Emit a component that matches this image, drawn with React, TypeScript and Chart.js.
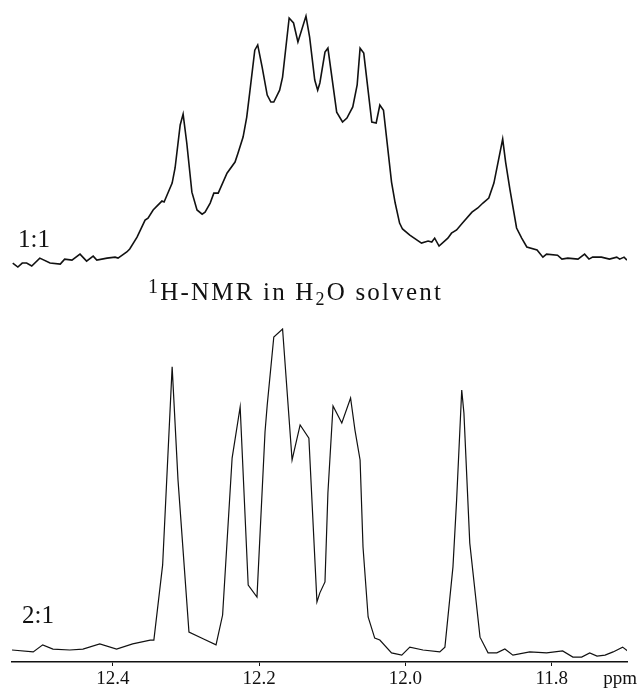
import React, { useEffect, useRef } from "react";
import { Chart, registerables } from "chart.js";

Chart.register(...registerables);

// 1:1 mixture spectrum (chemical shift in ppm, relative intensity)
const ppmTop = [
  12.537, 12.53, 12.524, 12.518, 12.511, 12.5, 12.486, 12.472, 12.466, 12.456,
  12.445, 12.436, 12.427, 12.422, 12.408, 12.397, 12.393, 12.381, 12.377, 12.367,
  12.356, 12.352, 12.345, 12.333, 12.33, 12.319, 12.315, 12.308, 12.304, 12.299,
  12.292, 12.285, 12.278, 12.274, 12.267, 12.262, 12.256, 12.244, 12.233, 12.229,
  12.222, 12.217, 12.213, 12.206, 12.202, 12.196, 12.189, 12.184, 12.18, 12.172,
  12.168, 12.159, 12.153, 12.147, 12.136, 12.131, 12.124, 12.12, 12.117, 12.11,
  12.106, 12.094, 12.086, 12.08, 12.072, 12.066, 12.062, 12.057, 12.046, 12.04,
  12.035, 12.03, 12.019, 12.014, 12.008, 12.004, 11.994, 11.978, 11.969, 11.964,
  11.96, 11.954, 11.942, 11.937, 11.93, 11.922, 11.909, 11.901, 11.894, 11.886,
  11.879, 11.867, 11.863, 11.857, 11.848, 11.841, 11.834, 11.82, 11.812, 11.807,
  11.792, 11.786, 11.778, 11.764, 11.755, 11.749, 11.744, 11.732, 11.721, 11.711,
  11.707, 11.701, 11.697,
];
const intensityTop = [
  0, -1.6, 0, 0, -1.2, 2.0, 0, -0.4, 1.6, 1.2,
  3.6, 0.8, 2.8, 1.2, 2.0, 2.4, 2.0, 4.5, 5.7, 10.5,
  17.4, 18.2, 21.5, 25.1, 24.7, 32.4, 38.5, 55.9, 60.3, 48.6,
  28.7, 21.5, 19.8, 20.6, 24.3, 28.3, 28.3, 36.4, 40.9, 44.5,
  51.0, 59.1, 68.8, 86.2, 88.3, 79.4, 68.0, 65.2, 65.2, 70.0,
  75.3, 99.2, 97.2, 89.5, 100, 91.5, 74.1, 70.0, 72.9, 85.4,
  87.0, 61.1, 57.1, 58.7, 63.2, 72.1, 87.0, 85.0, 57.1, 56.7,
  64.0, 61.9, 32.8, 24.3, 16.2, 13.8, 11.3, 8.1, 8.9, 8.5,
  10.1, 6.9, 10.1, 12.1, 13.4, 16.2, 20.6, 22.3, 24.3, 26.3,
  32.4, 50.2, 40.9, 29.6, 14.2, 10.1, 6.5, 5.3, 2.4, 3.6,
  3.2, 1.6, 2.0, 1.6, 3.6, 1.6, 2.4, 2.4, 1.6, 2.4,
  1.6, 2.4, 1.2,
];

// 2:1 mixture spectrum
const ppmBottom = [
  12.538, 12.509, 12.496, 12.482, 12.459, 12.441, 12.418, 12.395, 12.373, 12.349,
  12.344, 12.332, 12.319, 12.311, 12.296, 12.276, 12.259, 12.25, 12.237, 12.226,
  12.215, 12.203, 12.192, 12.189, 12.18, 12.168, 12.155, 12.144, 12.132, 12.121,
  12.117, 12.11, 12.106, 12.099, 12.087, 12.075, 12.069, 12.062, 12.058, 12.051,
  12.042, 12.035, 12.019, 12.005, 11.994, 11.976, 11.953, 11.946, 11.935, 11.93,
  11.923, 11.92, 11.912, 11.898, 11.887, 11.875, 11.864, 11.853, 11.83, 11.807,
  11.785, 11.771, 11.759, 11.748, 11.738, 11.727, 11.716, 11.703, 11.696,
];
const intensityBottom = [
  0, -0.6, 1.6, 0.3, 0, 0.3, 1.9, 0.3, 1.9, 3.1,
  3.1, 26.5, 88.2, 53.0, 5.6, 3.4, 1.6, 10.9, 59.8, 75.7,
  20.2, 16.5, 67.9, 76.3, 97.5, 100, 59.2, 70.1, 66.0, 15.0,
  17.8, 21.2, 48.9, 76.0, 70.7, 78.5, 68.5, 59.2, 32.1, 10.3,
  3.7, 3.1, -0.9, -1.6, 0.9, 0, -0.6, 0.9, 25.9, 46.7,
  81.0, 73.8, 33.3, 4.0, -0.9, -0.9, 0.3, -1.6, -0.6, -0.9,
  -0.3, -2.2, -2.2, -0.9, -1.9, -1.6, -0.6, 0.9, -0.3,
];

const tickValues = [12.4, 12.2, 12.0, 11.8];
const traceLabels = ["1:1", "2:1"];
const axisUnit = "ppm";
const titleParts = [
  { text: "1", role: "sup" },
  { text: "H-NMR in H", role: "main" },
  { text: "2", role: "sub" },
  { text: "O solvent", role: "main" },
];

const SERIF = "'Liberation Serif', 'Times New Roman', serif";
const INK = "#111111";

export default function App() {
  const ref = useRef<HTMLCanvasElement | null>(null);

  useEffect(() => {
    const canvas = ref.current;
    if (!canvas) return;

    const annotations = {
      id: "annotations",
      afterDraw(chart: any) {
        const ctx = chart.ctx as CanvasRenderingContext2D;
        const area = chart.chartArea;
        const xs = chart.scales.x;
        ctx.save();
        ctx.fillStyle = INK;
        ctx.textAlign = "left";
        ctx.textBaseline = "alphabetic";

        // trace labels
        ctx.font = `25px ${SERIF}`;
        ctx.fillText(traceLabels[0], area.left + 6, 247);
        ctx.fillText(traceLabels[1], area.left + 10, 623);

        // unit label at the right end of the axis
        ctx.font = `19px ${SERIF}`;
        ctx.textAlign = "right";
        ctx.textBaseline = "middle";
        ctx.fillText(axisUnit, area.right + 10, xs.top + 4 + 4 + 9.5);

        // title with super/subscripts
        ctx.textAlign = "left";
        ctx.textBaseline = "alphabetic";
        (ctx as any).letterSpacing = "2.2px";
        let x = 148;
        const base = 300;
        for (const part of titleParts) {
          let size = 25;
          let dy = 0;
          if (part.role === "sup") { size = 20; dy = -7; }
          if (part.role === "sub") { size = 18; dy = 5; }
          ctx.font = `${size}px ${SERIF}`;
          ctx.fillText(part.text, x, base + dy);
          x += ctx.measureText(part.text).width;
        }
        (ctx as any).letterSpacing = "0px";
        ctx.restore();
      },
    };

    const chart = new Chart(canvas, {
      type: "line",
      data: {
        datasets: [
          {
            label: traceLabels[0],
            data: ppmTop.map((p, i) => ({ x: p, y: intensityTop[i] })),
            yAxisID: "yTop",
            borderColor: INK,
            borderWidth: 1.6,
            pointRadius: 0,
            tension: 0,
            fill: false,
          },
          {
            label: traceLabels[1],
            data: ppmBottom.map((p, i) => ({ x: p, y: intensityBottom[i] })),
            yAxisID: "yBot",
            borderColor: INK,
            borderWidth: 1.2,
            pointRadius: 0,
            tension: 0,
            fill: false,
          },
        ],
      },
      options: {
        responsive: false,
        animation: false,
        layout: { padding: { left: 12, right: 14, top: 0, bottom: 0 } },
        plugins: {
          legend: { display: false },
          tooltip: { enabled: false },
          title: { display: false },
        },
        scales: {
          x: {
            type: "linear",
            reverse: true,
            min: 11.697,
            max: 12.538,
            border: { display: true, color: INK, width: 1.6 },
            grid: {
              display: true,
              drawOnChartArea: false,
              drawTicks: true,
              tickLength: 4,
              color: INK,
              lineWidth: 1,
            },
            afterBuildTicks: (scale: any) => {
              scale.ticks = tickValues.map((v) => ({ value: v }));
            },
            ticks: {
              autoSkip: false,
              maxRotation: 0,
              padding: 4,
              color: INK,
              font: { family: SERIF, size: 19, lineHeight: 1 },
              callback: (v: any) => Number(v).toFixed(1),
            },
          },
          yTop: {
            type: "linear",
            display: false,
            min: -161.5,
            max: 106.5,
          },
          yBot: {
            type: "linear",
            display: false,
            min: -3.74,
            max: 202.5,
          },
        },
      },
      plugins: [annotations],
    } as any);

    return () => chart.destroy();
  }, []);

  return (
    <div style={{ position: "fixed", left: 0, top: 0, width: 641, height: 693, background: "#fff" }}>
      <canvas ref={ref} width={641} height={693} style={{ display: "block" }} />
    </div>
  );
}
